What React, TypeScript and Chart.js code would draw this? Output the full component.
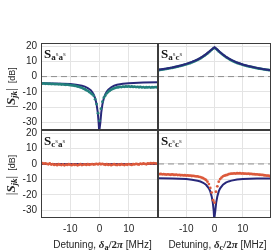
import { useEffect, useRef } from 'react';
import { Chart, registerables } from 'chart.js';

Chart.register(...registerables);

// ---------- data ----------
const xTicks = [-10, 0, 10];
const yTicks = [-30, -20, -10, 0, 10, 20];

const detuneX = [
  -20, -19.5, -19, -18.5, -18, -17.5, -17, -16.5, -16, -15.5,
  -15, -14.5, -14, -13.5, -13, -12.5, -12, -11.5, -11, -10.5,
  -10, -9.5, -9, -8.5, -8, -7.5, -7, -6.5, -6, -5.5,
  -5, -4.5, -4, -3.5, -3, -2.5, -2, -1.5, -1, -0.5,
  0,
  0.5, 1, 1.5, 2, 2.5, 3, 3.5, 4, 4.5, 5,
  5.5, 6, 6.5, 7, 7.5, 8, 8.5, 9, 9.5, 10,
  10.5, 11, 11.5, 12, 12.5, 13, 13.5, 14, 14.5, 15,
  15.5, 16, 16.5, 17, 17.5, 18, 18.5, 19, 19.5, 20,
];

// S_{a^s a^s} measured
const aaMeas = [
  -4.4, -4.6, -4.5, -4.7, -4.6, -4.8, -4.7, -4.9, -4.8, -4.9,
  -5.0, -4.9, -5.1, -5.0, -5.2, -5.1, -5.3, -5.4, -5.3, -5.5,
  -5.6, -5.7, -5.9, -6.0, -6.2, -6.5, -6.7, -7.1, -7.4, -7.9,
  -8.3, -8.9, -9.4, -10.1, -10.8, -11.6, -12.6, -14.8, -18.0, -24.0,
  -29.0,
  -21.0, -16.5, -13.8, -12.4, -11.0, -10.0, -9.3, -8.6, -8.1, -7.7,
  -7.4, -7.1, -7.0, -6.8, -6.9, -6.6, -6.7, -6.5, -6.6, -6.4,
  -6.7, -6.5, -6.8, -6.6, -6.9, -6.7, -7.0, -6.8, -7.1, -6.9,
  -7.2, -7.0, -7.1, -6.9, -7.2, -7.0, -7.1, -6.9, -7.0, -6.8,
];
const aaFitX = [-20, -15, -10, -8, -6, -5, -4, -3, -2.5, -2, -1.5, -1, -0.6, -0.3, -0.1, 0.1, 0.3, 0.6, 1, 1.5, 2, 2.5, 3, 4, 5, 6, 8, 10, 15, 20];
const aaFitY = [-4.3, -4.5, -4.9, -5.3, -6.0, -6.6, -7.5, -8.9, -10.1, -11.7, -14.1, -18.1, -23.4, -30, -36, -36, -30, -23.4, -18.1, -14.1, -11.5, -9.8, -8.6, -7.0, -6.0, -5.4, -4.7, -4.3, -3.9, -3.7];

// S_{a^s c^s} measured
const acMeas = [
  4.1, 4.3, 4.4, 4.6, 4.7, 4.9, 5.0, 5.2, 5.4, 5.6,
  5.7, 5.9, 6.1, 6.3, 6.5, 6.8, 7.0, 7.2, 7.5, 7.8,
  8.0, 8.3, 8.6, 8.9, 9.3, 9.7, 10.0, 10.5, 10.9, 11.4,
  11.9, 12.5, 13.1, 13.7, 14.4, 15.1, 15.9, 16.7, 17.5, 18.3,
  18.8,
  18.2, 17.4, 16.5, 15.7, 14.9, 14.2, 13.5, 12.8, 12.2, 11.6,
  11.1, 10.6, 10.1, 9.7, 9.3, 8.9, 8.6, 8.3, 8.0, 7.7,
  7.4, 7.2, 6.9, 6.7, 6.5, 6.3, 6.1, 5.9, 5.7, 5.5,
  5.3, 5.2, 5.0, 4.9, 4.7, 4.6, 4.4, 4.3, 4.2, 4.0,
];
const acFitX = [-20, -17, -15, -12, -10, -8, -6, -5, -4, -3, -2, -1, -0.5, 0, 0.5, 1, 2, 3, 4, 5, 6, 8, 10, 12, 15, 17, 20];
const acFitY = [4.4, 5.3, 6.0, 7.3, 8.3, 9.6, 11.2, 12.2, 13.4, 14.7, 16.2, 17.8, 18.6, 19.2, 18.6, 17.7, 16.0, 14.5, 13.1, 11.9, 10.9, 9.2, 7.9, 6.9, 5.7, 5.0, 4.2];

// S_{c^s a^s} measured
const caMeas = [
  0.3, 0.5, 0.2, 0.4, 0.1, -0.2, 0.3, -0.4, -0.1, -0.6,
  -0.3, -0.8, -0.2, -0.5, -0.7, -0.3, -0.9, -0.4, -0.6, -0.2,
  -0.5, -0.8, -0.3, -0.6, -0.4, -0.9, -0.5, -0.2, -0.7, -0.4,
  -0.3, -0.6, -0.2, -0.5, -0.3, -0.1, -0.4, -0.2, 0.1, -0.3,
  0.2,
  -0.2, 0.1, -0.3, -0.5, -0.2, -0.6, -0.3, -0.8, -0.4, -0.2,
  -0.5, -0.7, -0.3, -0.6, -0.2, -0.4, -0.7, -0.3, -0.5, -0.1,
  -0.4, -0.6, -0.2, -0.3, 0.1, -0.2, -0.4, 0.2, -0.1, 0.3,
  0.1, -0.2, 0.4, 0.2, 0.5, 0.3, 0.6, 0.4, 0.2, 0.5,
];
const caFitX = [-20, -10, 0, 10, 20];
const caFitY = [0.0, -0.1, -0.1, -0.1, 0.0];

// S_{c^s c^s} measured
const ccMeas = [
  -6.4, -6.6, -6.5, -6.7, -6.6, -6.8, -6.9, -6.7, -6.9, -7.0,
  -6.8, -7.0, -7.1, -6.9, -7.2, -7.1, -7.3, -7.2, -7.4, -7.3,
  -7.5, -7.4, -7.6, -7.5, -7.8, -7.7, -7.9, -8.0, -8.1, -8.3,
  -8.5, -8.8, -9.2, -9.8, -10.4, -11.5, -13.0, -15.5, -18.5, -23.5,
  -25.0,
  -18.0, -14.5, -11.5, -9.8, -8.8, -8.0, -7.6, -7.3, -7.1, -6.6,
  -6.4, -6.3, -6.2, -6.1, -6.2, -6.0, -6.1, -6.0, -6.2, -6.1,
  -6.3, -6.2, -6.4, -6.3, -6.5, -6.4, -6.6, -6.6, -6.8, -6.7,
  -6.9, -7.0, -7.1, -7.1, -7.3, -7.4, -7.5, -7.6, -7.8, -7.9,
];
const ccFitX = [-20, -15, -10, -8, -6, -5, -4, -3, -2, -1.5, -1, -0.6, -0.3, -0.1, 0.1, 0.3, 0.6, 1, 1.5, 2, 3, 4, 5, 6, 8, 10, 15, 20];
const ccFitY = [-9.2, -9.4, -9.8, -10.2, -10.9, -11.4, -12.2, -13.5, -15.8, -17.8, -21.0, -25.0, -30, -36, -36, -30, -25.0, -21.0, -17.8, -15.8, -13.4, -12.1, -11.3, -10.8, -10.1, -9.7, -9.4, -9.4];

const zeroX = [-20, 20];
const zeroY = [0, 0];

// ---------- styling ----------
const NAVY = '#28287a';
const TEAL = '#23807d';
const RED = '#dc5a3c';
const TXT = '#262626';
const SERIF = '"Liberation Serif"';
const SANS = '"Liberation Sans"';
const YAXIS_W = 40;
const XAXIS_H = 30;

type Part = { t: string; f: string; dy?: number; c?: string };

function partsWidth(ctx: CanvasRenderingContext2D, parts: Part[]) {
  let w = 0;
  for (const p of parts) {
    ctx.font = p.f;
    w += ctx.measureText(p.t).width;
  }
  return w;
}
function drawParts(ctx: CanvasRenderingContext2D, parts: Part[], x: number, y: number) {
  ctx.textAlign = 'left';
  ctx.textBaseline = 'alphabetic';
  for (const p of parts) {
    ctx.font = p.f;
    ctx.fillStyle = p.c || TXT;
    ctx.fillText(p.t, x, y + (p.dy || 0));
    x += ctx.measureText(p.t).width;
  }
}

function titleParts(a: string, b: string): Part[] {
  return [
    { t: 'S', f: `bold 13px ${SERIF}`, c: '#111' },
    { t: a, f: `bold 9px ${SERIF}`, dy: 2, c: '#222' },
    { t: 's', f: `7px ${SERIF}`, dy: -2, c: '#444' },
    { t: b, f: `bold 9px ${SERIF}`, dy: 2, c: '#222' },
    { t: 's', f: `7px ${SERIF}`, dy: -2, c: '#444' },
  ];
}
const yTitle: Part[] = [
  { t: '|', f: `13px ${SERIF}` },
  { t: 'S', f: `bold italic 13px ${SERIF}` },
  { t: 'jk', f: `bold italic 9px ${SERIF}`, dy: 2 },
  { t: '|', f: `13px ${SERIF}` },
  { t: '  [dB]', f: `9px ${SANS}` },
];
function xTitle(sub: string): Part[] {
  return [
    { t: 'Detuning, ', f: `10px ${SANS}` },
    { t: 'δ', f: `bold italic 11px ${SERIF}` },
    { t: sub, f: `bold 8px ${SERIF}`, dy: 2 },
    { t: '/2', f: `bold 11px ${SERIF}` },
    { t: 'π', f: `bold italic 11px ${SERIF}` },
    { t: ' [MHz]', f: `10px ${SANS}` },
  ];
}

const panelPlugin = {
  id: 'panel',
  afterDraw(chart: any, _args: any, opts: any) {
    const ctx: CanvasRenderingContext2D = chart.ctx;
    const a = chart.chartArea;
    ctx.save();
    ctx.strokeStyle = '#3c3c3c';
    ctx.lineWidth = 1;
    ctx.strokeRect(a.left + 0.5, a.top + 0.5, a.right - a.left - 1, a.bottom - a.top - 1);
    drawParts(ctx, opts.title, a.left + 3, a.top + 14.5);
    if (opts.yTitle) {
      const w = partsWidth(ctx, yTitle);
      ctx.save();
      ctx.translate(10, (a.top + a.bottom) / 2 + 1);
      ctx.rotate(-Math.PI / 2);
      drawParts(ctx, yTitle, -w / 2, 4.5);
      ctx.restore();
    }
    if (opts.xTitle) {
      const w = partsWidth(ctx, opts.xTitle);
      drawParts(ctx, opts.xTitle, (a.left + a.right) / 2 + 3 - w / 2, 248);
    }
    ctx.restore();
  },
};

function pts(xs: number[], ys: number[]) {
  return xs.map((x, i) => ({ x, y: ys[i] }));
}

type PanelDef = {
  area: { l: number; t: number; r: number; b: number };
  fitX: number[];
  fitY: number[];
  meas: number[];
  measColor: string;
  dotsOnTop: boolean;
  showX: boolean;
  showY: boolean;
  title: Part[];
  xTitle?: Part[];
};

function makeConfig(p: PanelDef): any {
  const fit = {
    label: 'fit',
    data: pts(p.fitX, p.fitY),
    showLine: true,
    borderColor: NAVY,
    borderWidth: 2,
    pointRadius: 0,
    clip: 0,
  };
  const meas = {
    label: 'meas',
    data: pts(detuneX, p.meas),
    showLine: false,
    backgroundColor: p.measColor,
    borderWidth: 0,
    pointRadius: 1.4,
    clip: 0,
  };
  const zero = {
    label: 'zero',
    data: pts(zeroX, zeroY),
    showLine: true,
    borderColor: '#8f8f8f',
    borderWidth: 1,
    borderDash: [6, 4],
    pointRadius: 0,
    clip: 0,
  };
  const datasets = p.dotsOnTop ? [meas, fit, zero] : [fit, meas, zero];
  return {
    type: 'scatter',
    data: { datasets },
    plugins: [panelPlugin],
    options: {
      animation: false,
      responsive: false,
      devicePixelRatio: 1,
      events: [],
      layout: {
        padding: {
          left: p.area.l - YAXIS_W,
          top: p.area.t,
          right: 275 - p.area.r,
          bottom: 250 - p.area.b - XAXIS_H,
        },
      },
      plugins: {
        legend: { display: false },
        tooltip: { enabled: false },
        panel: { title: p.title, yTitle: p.showY, xTitle: p.xTitle },
      },
      scales: {
        x: {
          type: 'linear',
          min: -20,
          max: 20,
          afterBuildTicks: (s: any) => { s.ticks = xTicks.map((v) => ({ value: v })); },
          afterFit: (s: any) => { s.height = XAXIS_H; },
          grid: { color: '#e4e4e4', drawTicks: false, lineWidth: 1 },
          border: { display: false },
          ticks: {
            display: p.showX,
            padding: 5,
            maxRotation: 0,
            autoSkip: false,
            color: TXT,
            font: { family: 'Liberation Sans', size: 10 },
            callback: (v: any) => String(v),
          },
        },
        y: {
          type: 'linear',
          min: -35,
          max: 22,
          afterBuildTicks: (s: any) => { s.ticks = yTicks.map((v) => ({ value: v })); },
          afterFit: (s: any) => { s.width = YAXIS_W; },
          grid: { color: '#e4e4e4', drawTicks: false, lineWidth: 1 },
          border: { display: false },
          ticks: {
            display: p.showY,
            padding: 4,
            autoSkip: false,
            color: TXT,
            font: { family: 'Liberation Sans', size: 10 },
            callback: (v: any) => String(v),
          },
        },
      },
    },
  };
}

const panels: PanelDef[] = [
  { area: { l: 41, t: 43, r: 158, b: 130 }, fitX: aaFitX, fitY: aaFitY, meas: aaMeas, measColor: TEAL, dotsOnTop: true, showX: false, showY: true, title: titleParts('a', 'a') },
  { area: { l: 158, t: 43, r: 275, b: 130 }, fitX: acFitX, fitY: acFitY, meas: acMeas, measColor: TEAL, dotsOnTop: false, showX: false, showY: false, title: titleParts('a', 'c') },
  { area: { l: 41, t: 130, r: 158, b: 218 }, fitX: caFitX, fitY: caFitY, meas: caMeas, measColor: RED, dotsOnTop: true, showX: true, showY: true, title: titleParts('c', 'a'), xTitle: xTitle('a') },
  { area: { l: 158, t: 130, r: 275, b: 218 }, fitX: ccFitX, fitY: ccFitY, meas: ccMeas, measColor: RED, dotsOnTop: true, showX: true, showY: false, title: titleParts('c', 'c'), xTitle: xTitle('c') },
];

export default function App() {
  const refs = useRef<(HTMLCanvasElement | null)[]>([]);
  useEffect(() => {
    document.body.style.margin = '0';
    const charts = panels.map((p, i) => new Chart(refs.current[i] as HTMLCanvasElement, makeConfig(p)));
    return () => charts.forEach((c) => c.destroy());
  }, []);
  return (
    <div style={{ position: 'relative', width: 275, height: 250, background: '#fff' }}>
      {panels.map((_, i) => (
        <canvas
          key={i}
          ref={(el) => { refs.current[i] = el; }}
          width={275}
          height={250}
          style={{ position: 'absolute', left: 0, top: 0, width: 275, height: 250 }}
        />
      ))}
    </div>
  );
}
